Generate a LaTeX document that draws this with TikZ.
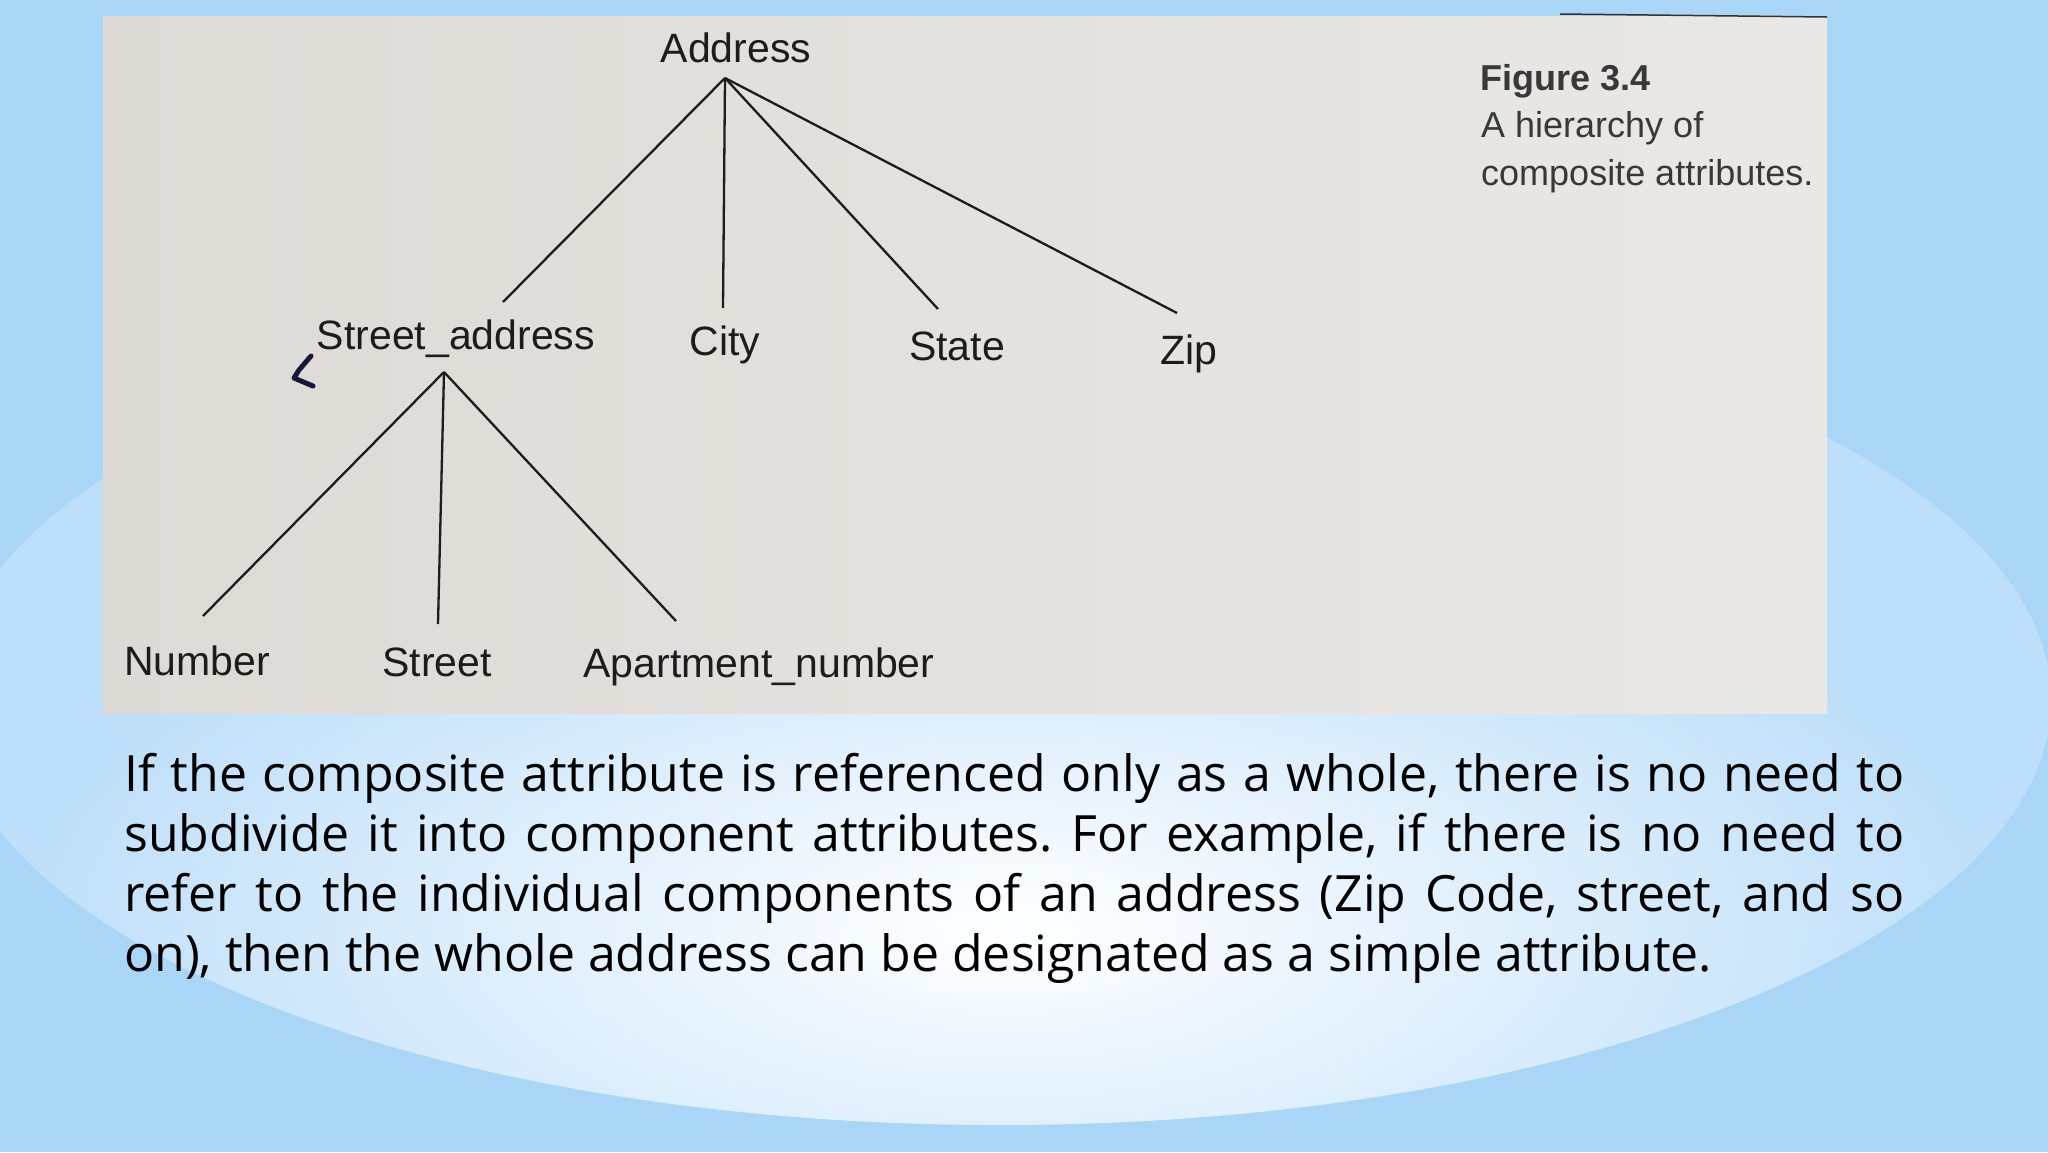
\documentclass[tikz,border=0pt]{standalone}
\usepackage{fontspec}
\setmainfont{Open Sans}
\newfontfamily\bookfont{Liberation Sans}
\definecolor{bgblue}{HTML}{A9D5F7}
\definecolor{glowblue}{HTML}{BEDFF9}
\definecolor{paperL}{HTML}{DDDAD6}
\definecolor{paperM}{HTML}{EEECE9}
\definecolor{paperR}{HTML}{EAE8E5}
\definecolor{ink}{HTML}{1C1C1C}
\definecolor{capink}{HTML}{383838}
\definecolor{penblue}{HTML}{15183A}
\begin{document}
\begin{tikzpicture}[
            x = 1pt, y = -1pt,
            lbl/.style = {anchor = base, inner sep = 0pt, text = ink, font = \bookfont\fontsize{41}{48}\selectfont},
            figcap/.style = {anchor = base west, inner sep = 0pt, text = capink, font = \bookfont\fontsize{36}{48}\selectfont},
            ln/.style = {draw = ink, line width = 2.3pt},
        ]
        \useasboundingbox (0,0) rectangle (2048,1152);

        % slide background
        \fill[bgblue] (0,0) rectangle (2048,1152);
        \fill[glowblue] (1000,700) ellipse (1051 and 425);
        \begin{scope}
            \clip (1000,700) ellipse (1051 and 425);
            \shade[inner color = white, outer color = glowblue] (1010,930) ellipse (1000 and 420);
        \end{scope}

        % photo of the book page
        \shade[left color = paperL, middle color = paperM, right color = paperR] (103,16) rectangle (1827,713);
        \draw[gray!40!black, line width = 1.5pt] (1560,14) -- (1827,17);
        \draw[penblue, line width = 5pt, line cap = round, line join = round] (311,356) -- (299,370) -- (294,378) -- (313,386);

        \node (addr) [lbl] at (736,62) {Address};
        \node (saddr) [lbl] at (456,349) {Street\_address};
        \node (city) [lbl] at (725,355) {City};
        \node (state) [lbl] at (957,360) {State};
        \node (zip) [lbl] at (1189,364) {Zip};

        \node (num) [lbl] at (197,675) {Number};
        \node (street) [lbl] at (437,676) {Street};
        \node (aptnum) [lbl] at (759,677) {Apartment\_number};

        \coordinate (addrtip) at (725,78);
        \coordinate (saddrtip) at (444,372);
        \coordinate (saddrend) at (503,302);
        \coordinate (cityend) at (723,308);
        \coordinate (stateend) at (938,309);
        \coordinate (zipend) at (1177,313);
        \coordinate (numend) at (203,616);
        \coordinate (streetend) at (438,624);
        \coordinate (aptend) at (676,621);

        \path[ln] (addrtip) -- (saddrend);
        \path[ln] (addrtip) -- (cityend);
        \path[ln] (addrtip) -- (stateend);
        \path[ln] (addrtip) -- (zipend);

        \path[ln] (saddrtip) -- (numend);
        \path[ln] (saddrtip) -- (streetend);
        \path[ln] (saddrtip) -- (aptend);

        \node (fignum) [figcap, font = \bookfont\bfseries\fontsize{36}{48}\selectfont] at (1480,90) {Figure 3.4};
        \node (figtxta) [figcap] at (1481,137) {A hierarchy of};
        \node (figtxtb) [figcap] at (1481,185) {composite attributes.};

        % slide text
        \node (para) [anchor = base west, inner sep = 0pt, text width = 1780pt, align = justify,
            font = \fontsize{50}{60}\selectfont\frenchspacing] at (124,791)
            {If the composite attribute is referenced only as a whole, there is no need to\linebreak
             subdivide it into component attributes. For example, if there is no need to\linebreak
             refer to the individual components of an address (Zip Code, street, and so\linebreak
             on), then the whole address can be designated as a simple attribute.};
    \end{tikzpicture}
\end{document}
